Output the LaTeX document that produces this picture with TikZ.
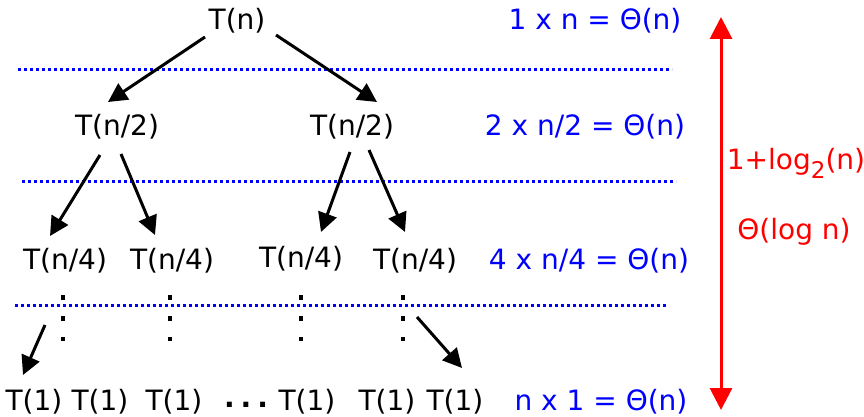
\documentclass[tikz,border=0pt]{standalone}
\usepackage{fontspec}
\setmainfont{DejaVu Sans}
\usetikzlibrary{arrows.meta}
\begin{document}
\begin{tikzpicture}[x=1pt,y=-1pt,
  lbl/.style={inner sep=0pt, font=\fontsize{28}{33}\selectfont, text=black},
  cost/.style={inner sep=0pt, font=\fontsize{28}{33}\selectfont, text=blue},
  red lbl/.style={inner sep=0pt, font=\fontsize{28}{33}\selectfont, text=red},
  edge/.style={line width=3pt, -{Triangle[length=19pt,width=19pt]}},
  level/.style={blue, line width=3pt, dash pattern=on 3pt off 3pt},
  vdots/.style={line width=4.5pt, dash pattern=on 4.5pt off 16.5pt},
  height/.style={red, line width=3pt, {Triangle[length=22pt,width=22pt]}-{Triangle[length=22pt,width=22pt]}}
]
\useasboundingbox (0,0) rectangle (864,417);
% tree nodes
\node[lbl] (r) at (237,21) {T(n)};
\node[lbl] (l) at (117,127) {T(n/2)};
\node[lbl] (rr) at (352,127) {T(n/2)};
\node[lbl] (ll1) at (65,261) {T(n/4)};
\node[lbl] (ll2) at (172,261) {T(n/4)};
\node[lbl] (lr1) at (301,259) {T(n/4)};
\node[lbl] (lr2) at (415,261) {T(n/4)};
\node[lbl] (b1) at (34,402) {T(1)};
\node[lbl] (b2) at (100,402) {T(1)};
\node[lbl] (b3) at (174,402) {T(1)};
\node[lbl] (bd) at (246,405) {\bfseries .\hspace{6pt}.\hspace{6pt}.};
\node[lbl] (b4) at (307,402) {T(1)};
\node[lbl] (b5) at (387,402) {T(1)};
\node[lbl] (b6) at (455,402) {T(1)};
% costs
\node[cost] (c1) at (595,21) {1 x n = Θ(n)};
\node[cost] (c2) at (585,127) {2 x n/2 = Θ(n)};
\node[cost] (c3) at (589,261) {4 x n/4 = Θ(n)};
\node[cost] (c4) at (601,402) {n x 1 = Θ(n)};
% height
\node[red lbl] (h1) at (796,163) {1+log\raisebox{-0.32em}{\fontsize{23}{23}\selectfont 2}(n)};
\node[red lbl] (h2) at (794,232) {Θ(log n)};
\coordinate (ht) at (721,17);
\coordinate (hb) at (721,410);
\draw[height] (ht) -- (hb);
% level lines
\coordinate (d1a) at (18,70);  \coordinate (d1b) at (672,70);
\coordinate (d2a) at (22,181); \coordinate (d2b) at (676,181);
\coordinate (d3a) at (15,305); \coordinate (d3b) at (668,305);
\draw[level] (d1a) -- (d1b);
\draw[level] (d2a) -- (d2b);
\draw[level] (d3a) -- (d3b);
% arrows
\coordinate (e1s) at (205,37);  \coordinate (e1t) at (108,102);
\coordinate (e2s) at (276,35);  \coordinate (e2t) at (377,102);
\coordinate (e3s) at (100,155); \coordinate (e3t) at (50,236);
\coordinate (e4s) at (121,154); \coordinate (e4t) at (155,235);
\coordinate (e5s) at (350,152); \coordinate (e5t) at (321,232);
\coordinate (e6s) at (369,150); \coordinate (e6t) at (405,232);
\coordinate (e7s) at (45,325);  \coordinate (e7t) at (23,375);
\coordinate (e8s) at (417,317); \coordinate (e8t) at (462,368);
\draw[edge] (e1s) -- (e1t);
\draw[edge] (e2s) -- (e2t);
\draw[edge] (e3s) -- (e3t);
\draw[edge] (e4s) -- (e4t);
\draw[edge] (e5s) -- (e5t);
\draw[edge] (e6s) -- (e6t);
\draw[edge] (e7s) -- (e7t);
\draw[edge] (e8s) -- (e8t);
% vertical dots
\foreach \x/\n in {63/a,170/b,301/c,403/d}{
  \coordinate (v\n s) at (\x,295);
  \coordinate (v\n e) at (\x,341);
  \draw[vdots] (v\n s) -- (v\n e);
}
\end{tikzpicture}
\end{document}
